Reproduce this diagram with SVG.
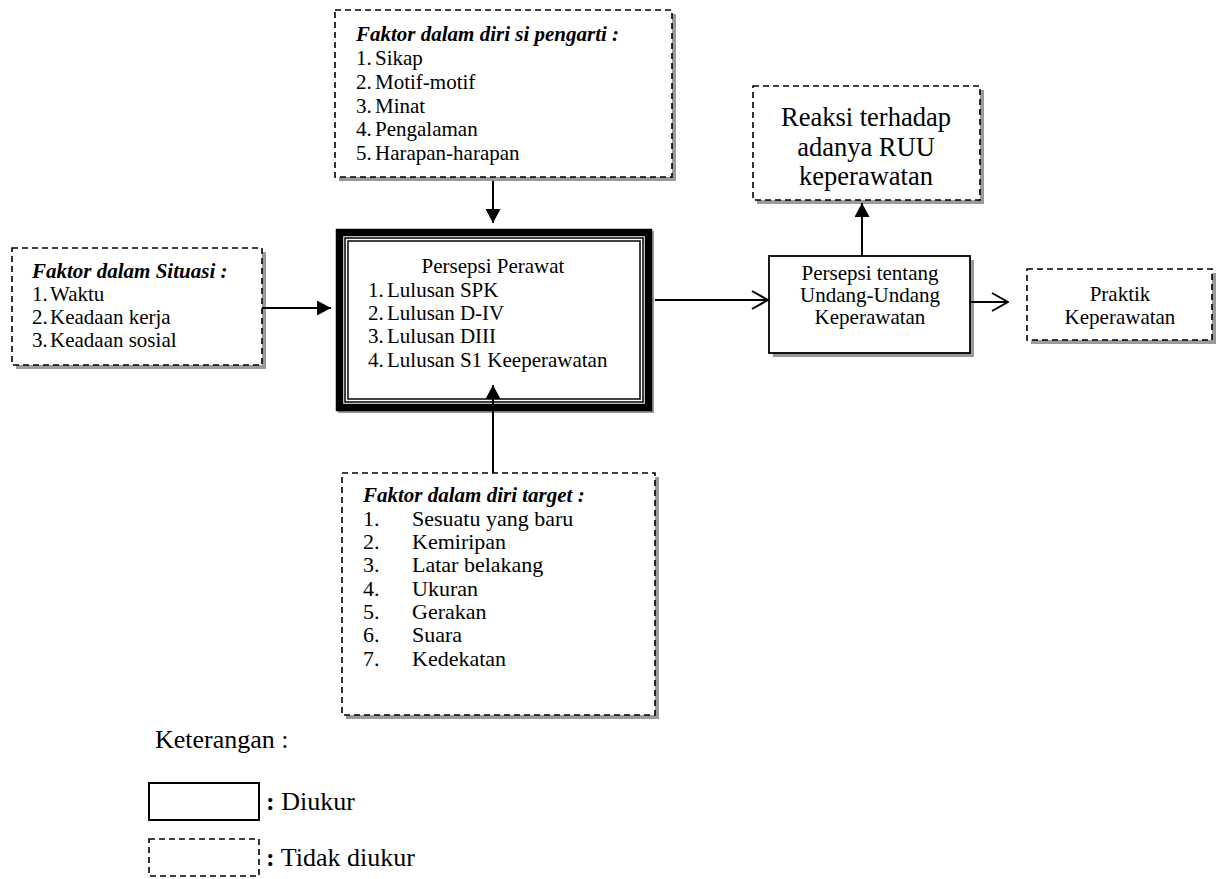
<svg xmlns="http://www.w3.org/2000/svg" width="1219" height="879" viewBox="0 0 1219 879">
  <style>
    text { font-family: "Liberation Serif", "Times New Roman", serif; fill: #000; }
    .t20 { font-size: 21px; }
    .t23 { font-size: 22px; }
    .t26 { font-size: 26.5px; }
    .lg { font-size: 26px; }
    .hd { font-size: 21px; font-weight: bold; font-style: italic; }
    .mid { text-anchor: middle; }
    .shadow { fill: #9a9a9a; }
    .dash { fill: #fff; stroke: #000; stroke-width: 1.6; stroke-dasharray: 6 4; }
    .solid { fill: #fff; stroke: #000; stroke-width: 1.8; }
    .wire { fill: none; stroke: #000; stroke-width: 2; }
  </style>
  <defs>
    <marker id="fill-head" viewBox="0 0 14 15" refX="14" refY="7.5" markerWidth="14" markerHeight="15" markerUnits="userSpaceOnUse" orient="auto">
      <path d="M0,0 L14,7.5 L0,15 Z" fill="#000"/>
    </marker>
    <marker id="open-head" viewBox="0 0 18 20" refX="17" refY="10" markerWidth="18" markerHeight="20" markerUnits="userSpaceOnUse" orient="auto">
      <path d="M1,1 L17,10 L1,19" fill="none" stroke="#000" stroke-width="2"/>
    </marker>
  </defs>
  <rect width="1219" height="879" fill="#fff"/>

  <!-- Factors within the perceiver -->
  <g id="node-pengarti">
    <rect class="shadow" x="339" y="14" width="337" height="167"/>
    <rect class="dash" x="335" y="10" width="337" height="167"/>
    <text class="hd" x="356" y="41">Faktor dalam diri si pengarti :</text>
    <text class="t20" x="356" y="65">1.</text><text class="t20" x="375" y="65">Sikap</text>
    <text class="t20" x="356" y="89">2.</text><text class="t20" x="375" y="89">Motif-motif</text>
    <text class="t20" x="356" y="113">3.</text><text class="t20" x="375" y="113">Minat</text>
    <text class="t20" x="356" y="136">4.</text><text class="t20" x="375" y="136">Pengalaman</text>
    <text class="t20" x="356" y="160">5.</text><text class="t20" x="375" y="160">Harapan-harapan</text>
  </g>

  <!-- Situational factors -->
  <g id="node-situasi">
    <rect class="shadow" x="16" y="252" width="250" height="117"/>
    <rect class="dash" x="12" y="248" width="250" height="117"/>
    <text class="hd" x="32" y="278">Faktor dalam Situasi :</text>
    <text class="t20" x="32" y="301">1.</text><text class="t20" x="50" y="301">Waktu</text>
    <text class="t20" x="32" y="324">2.</text><text class="t20" x="50" y="324">Keadaan kerja</text>
    <text class="t20" x="32" y="347">3.</text><text class="t20" x="50" y="347">Keadaan sosial</text>
  </g>

  <!-- Nurse perception (framed box) -->
  <g id="node-persepsi-perawat">
    <rect x="338" y="231" width="316" height="182" fill="#9a9a9a"/>
    <rect x="339.5" y="232.5" width="309" height="175" fill="#fff" stroke="#000" stroke-width="7.5"/>
    <rect x="345" y="238" width="298" height="164" fill="none" stroke="#000" stroke-width="1.5"/>
    <rect x="348" y="241" width="292" height="158" fill="none" stroke="#000" stroke-width="1.5"/>
    <text class="t20 mid" x="493" y="273">Persepsi Perawat</text>
    <text class="t20" x="368" y="297">1.</text><text class="t20" x="387" y="297">Lulusan SPK</text>
    <text class="t20" x="368" y="320">2.</text><text class="t20" x="387" y="320">Lulusan D-IV</text>
    <text class="t20" x="368" y="343">3.</text><text class="t20" x="387" y="343">Lulusan DIII</text>
    <text class="t20" x="368" y="367">4.</text><text class="t20" x="387" y="367">Lulusan S1 Keeperawatan</text>
  </g>

  <!-- Target factors -->
  <g id="node-target">
    <rect class="shadow" x="346" y="477" width="313" height="242"/>
    <rect class="dash" x="342" y="473" width="313" height="242"/>
    <text class="hd" x="363" y="502">Faktor dalam diri target :</text>
    <text class="t23" x="363" y="526">1.</text><text class="t23" x="412" y="526">Sesuatu yang baru</text>
    <text class="t23" x="363" y="549">2.</text><text class="t23" x="412" y="549">Kemiripan</text>
    <text class="t23" x="363" y="572">3.</text><text class="t23" x="412" y="572">Latar belakang</text>
    <text class="t23" x="363" y="596">4.</text><text class="t23" x="412" y="596">Ukuran</text>
    <text class="t23" x="363" y="619">5.</text><text class="t23" x="412" y="619">Gerakan</text>
    <text class="t23" x="363" y="642">6.</text><text class="t23" x="412" y="642">Suara</text>
    <text class="t23" x="363" y="666">7.</text><text class="t23" x="412" y="666">Kedekatan</text>
  </g>

  <!-- Reaction to the bill -->
  <g id="node-reaksi">
    <rect class="shadow" x="757" y="90" width="227" height="114"/>
    <rect class="dash" x="753" y="86" width="227" height="114"/>
    <text class="t26 mid" x="866" y="126">Reaksi terhadap</text>
    <text class="t26 mid" x="866" y="156">adanya RUU</text>
    <text class="t26 mid" x="866" y="185">keperawatan</text>
  </g>

  <!-- Perception of the nursing law -->
  <g id="node-persepsi-uu">
    <rect class="shadow" x="773" y="260" width="201" height="97"/>
    <rect class="solid" x="769" y="256" width="201" height="97"/>
    <text class="t20 mid" x="870" y="280">Persepsi tentang</text>
    <text class="t20 mid" x="870" y="302">Undang-Undang</text>
    <text class="t20 mid" x="870" y="324">Keperawatan</text>
  </g>

  <!-- Nursing practice -->
  <g id="node-praktik">
    <rect class="shadow" x="1031" y="273" width="185" height="71"/>
    <rect class="dash" x="1027" y="269" width="185" height="71"/>
    <text class="t20 mid" x="1120" y="301">Praktik</text>
    <text class="t20 mid" x="1120" y="324">Keperawatan</text>
  </g>

  <!-- Connectors, drawn over the boxes -->
  <g id="connectors">
    <line class="wire" x1="493" y1="181" x2="493" y2="223" marker-end="url(#fill-head)"/>
    <line class="wire" x1="262" y1="308" x2="331" y2="308" marker-end="url(#fill-head)"/>
    <line class="wire" x1="493" y1="473" x2="493" y2="385" marker-end="url(#fill-head)"/>
    <line class="wire" x1="655" y1="300" x2="768" y2="300" marker-end="url(#open-head)"/>
    <line class="wire" x1="862" y1="256" x2="862" y2="203" marker-end="url(#fill-head)"/>
    <line class="wire" x1="970" y1="302" x2="1008" y2="302" marker-end="url(#open-head)"/>
  </g>

  <!-- Legend -->
  <g id="legend">
    <text class="lg" x="155" y="748">Keterangan :</text>
    <rect x="149" y="783" width="110" height="37" fill="#fff" stroke="#000" stroke-width="2"/>
    <text class="lg" x="266" y="810"><tspan font-weight="bold">:</tspan> Diukur</text>
    <rect x="149" y="839" width="110" height="37" fill="#fff" stroke="#000" stroke-width="1.6" stroke-dasharray="6 4"/>
    <text class="lg" x="266" y="866"><tspan font-weight="bold">:</tspan> Tidak diukur</text>
  </g>
</svg>
